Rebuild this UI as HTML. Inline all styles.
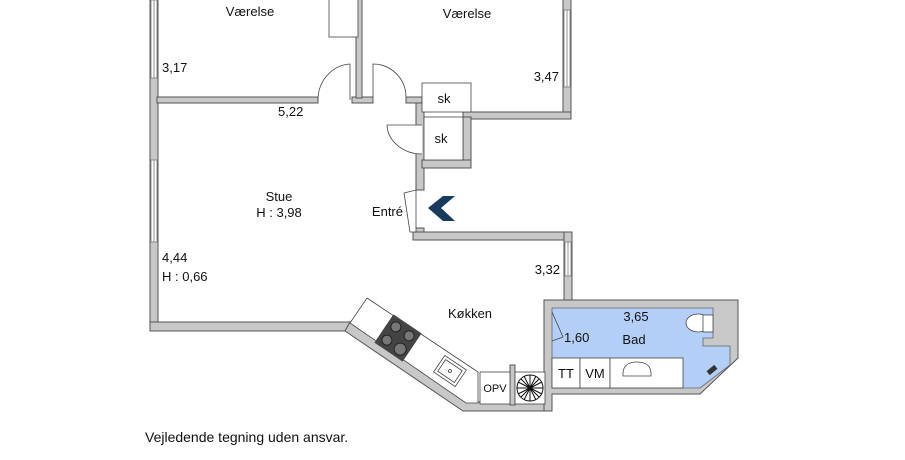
<!DOCTYPE html>
<html><head><meta charset="utf-8"><style>
body{margin:0;background:#fff}
svg{display:block}
text{font-family:"Liberation Sans",sans-serif;font-size:13px;fill:#111}
</style></head><body>
<svg width="905" height="460" viewBox="0 0 905 460">
<g fill="#c8c8c8" stroke="#555" stroke-width="1">
<!-- left wall -->
<rect x="150" y="-2" width="8" height="333"/>
<!-- bottom stue wall -->
<rect x="150" y="322" width="200" height="9"/>
<polygon points="350,322 467,402 552,402 552,411 463,411 345,331"/>
<!-- top divider left -->
<rect x="157" y="97" width="161" height="6"/>
<rect x="352" y="97" width="21" height="6"/>
<rect x="356" y="-2" width="6" height="100"/>
<rect x="406" y="97" width="16" height="6"/>
<!-- right room walls -->
<rect x="563" y="-2" width="8" height="121"/>
<rect x="463" y="112" width="108" height="7"/>
<!-- hall wall -->
<rect x="416" y="103" width="8" height="87"/>
<rect x="463" y="117" width="8" height="51"/>
<rect x="422" y="160" width="49" height="8"/>
<rect x="413" y="228" width="11" height="9"/>
<rect x="413" y="232" width="158" height="8"/>
<rect x="564" y="232" width="8" height="75"/>
<!-- bath walls -->
<polygon points="544,300 738,300 738,358 700,394 552,394 552,411 544,411"/>
<rect x="510" y="365" width="5" height="40"/>
</g>
<!-- windows -->
<g fill="#fff" stroke="#777" stroke-width="0.8">
<rect x="151" y="0" width="6" height="78"/><line x1="154" y1="0" x2="154" y2="78"/>
<rect x="151" y="160" width="6" height="82"/><line x1="154" y1="160" x2="154" y2="242"/>
<rect x="564" y="10" width="6" height="77"/><line x1="567" y1="10" x2="567" y2="87"/>
<rect x="565" y="242" width="6" height="34"/><line x1="568" y1="242" x2="568" y2="276"/>
</g>
<!-- bath floor -->
<polygon points="552,308 713,308 713,338 703,338 703,346 730,346 730,365 700,388 552,388" fill="#b3cff7" stroke="#666" stroke-width="0.8"/>
<polyline points="552,312 563,337 552,341" fill="none" stroke="#444" stroke-width="0.8"/>
<!-- fixtures -->
<g fill="#fff" stroke="#444" stroke-width="0.8">
<rect x="329" y="-2" width="29" height="39"/>
<rect x="422" y="83" width="49" height="29"/>
<rect x="424" y="117" width="39" height="43"/>
<rect x="552" y="358" width="28" height="30"/>
<rect x="580" y="358" width="30" height="30"/>
<rect x="610" y="358" width="73" height="30"/>
<rect x="480" y="372" width="30" height="32"/>
<rect x="515" y="372" width="30" height="32"/>
<polygon points="367,298 478,372 478,403 466,403 350,323"/>
<path d="M623,376 Q622,362 637,362 Q652,362 651,376 Z"/>
<ellipse cx="698" cy="323" rx="12" ry="9"/>
<rect x="703" y="315" width="10" height="17"/>
<path d="M318,100 A34,36 0 0 1 350,64 L350,100"/>
<path d="M406,97 A33,33 0 0 0 373,64 L373,100"/>
<path d="M422,154 A35,30 0 0 1 387,125 L422,125"/>
<polygon points="404,193 416,190 416,232 410,232"/>
</g>
<!-- cooktop -->
<g transform="translate(398,338) rotate(34)">
<rect x="-17" y="-17" width="34" height="34" fill="#444"/>
<g fill="#777" stroke="#222"><circle cx="-8" cy="-8" r="5"/><circle cx="8" cy="-8" r="5"/><circle cx="-8" cy="8" r="5"/><circle cx="8" cy="8" r="6"/></g>
</g>
<g transform="translate(450,371) rotate(34)" fill="#fff" stroke="#444" stroke-width="0.8">
<rect x="-13" y="-10" width="26" height="20"/><rect x="-10" y="-7" width="20" height="14"/><circle cx="0" cy="0" r="1.5"/>
</g>
<!-- fan -->
<g stroke="#111" stroke-width="1" fill="none">
<circle cx="530" cy="388" r="13"/>
<path d="M517,388H543M530,375V401M521,379L539,397M539,379L521,397M524,376L536,400M536,376L524,400M518,382L542,394M542,382L518,394"/>
</g>
<g transform="translate(712,370) rotate(-40)"><rect x="-5" y="-2.5" width="10" height="5" fill="#333"/></g>
<!-- arrow -->
<polygon points="428,208 443,196 455,196 441,208 455,221 443,221" fill="#173a5e"/>
<!-- labels -->
<text x="250" y="16" text-anchor="middle">Værelse</text>
<text x="467" y="18" text-anchor="middle">Værelse</text>
<text x="162" y="72">3,17</text>
<text x="559" y="81" text-anchor="end">3,47</text>
<text x="278" y="116">5,22</text>
<text x="444" y="103" text-anchor="middle">sk</text>
<text x="441" y="143" text-anchor="middle">sk</text>
<text x="279" y="201" text-anchor="middle">Stue</text>
<text x="279" y="217" text-anchor="middle">H : 3,98</text>
<text x="403" y="216" text-anchor="end">Entré</text>
<text x="162" y="262">4,44</text>
<text x="162" y="281">H : 0,66</text>
<text x="560" y="274" text-anchor="end">3,32</text>
<text x="470" y="318" text-anchor="middle">Køkken</text>
<text x="636" y="321" text-anchor="middle">3,65</text>
<text x="634" y="344" text-anchor="middle">Bad</text>
<text x="564" y="342">1,60</text>
<text x="566" y="378" text-anchor="middle">TT</text>
<text x="595" y="378" text-anchor="middle">VM</text>
<text x="495" y="392" text-anchor="middle" style="font-size:11px">OPV</text>
<text x="145" y="442" style="font-size:14px">Vejledende tegning uden ansvar.</text>
</svg>
</body></html>
